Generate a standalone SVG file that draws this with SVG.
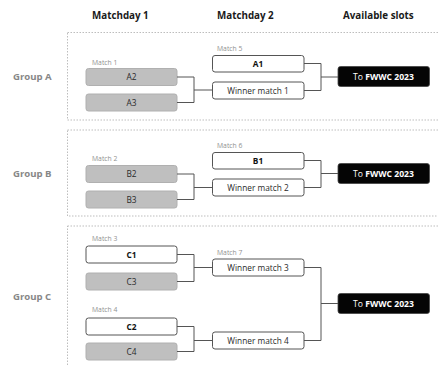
<svg xmlns="http://www.w3.org/2000/svg" width="438" height="365" viewBox="0 0 438 365">
<style>
text{font-family:"Open Sans","Liberation Sans",sans-serif}
.hdr{font-size:9.8px;font-weight:700;fill:#1a1a1a}
.grp{font-size:9.6px;font-weight:700;fill:#878787}
.lbl{font-size:6.8px;fill:#919191}
.t{font-size:8.3px;fill:#2a2a2a;text-anchor:middle}
.b{font-weight:700;fill:#111}
.gray{fill:#bfbfbf;stroke:#b0b0b0;stroke-width:1}
.white{fill:#fff;stroke:#555;stroke-width:1}
.slot{fill:#050505;stroke:#444;stroke-width:0.8}
.st{font-size:8.6px;fill:#fff;text-anchor:middle}
.frame{fill:none;stroke:#bdbdbd;stroke-width:1;stroke-dasharray:1.5 1.5}
.con path{fill:none;stroke:#555;stroke-width:1}
</style>
<g id="headers">
<text class="hdr" x="92" y="18.5">Matchday 1</text>
<text class="hdr" x="217" y="18.5">Matchday 2</text>
<text class="hdr" x="343" y="18.5">Available slots</text>
</g>
<g id="frames">
<rect class="frame" x="67.5" y="32.5" width="380" height="87.5"/>
<rect class="frame" x="67.5" y="130" width="380" height="86"/>
<rect class="frame" x="67.5" y="226" width="380" height="150"/>
</g>
<g id="groupA">
<text class="grp" x="13" y="80">Group A</text>
<text class="lbl" x="92" y="64.5">Match 1</text>
<text class="lbl" x="217" y="50.5">Match 5</text>
</g>
<g id="groupB">
<text class="grp" x="13" y="177">Group B</text>
<text class="lbl" x="92" y="161">Match 2</text>
<text class="lbl" x="217" y="147.5">Match 6</text>
</g>
<g id="groupC">
<text class="grp" x="13" y="299.5">Group C</text>
<text class="lbl" x="92" y="240.5">Match 3</text>
<text class="lbl" x="217" y="254.5">Match 7</text>
<text class="lbl" x="92" y="311.5">Match 4</text>
</g>
<g id="A2"><rect class="gray" x="86" y="68.5" width="91" height="17" rx="2.5"/><text class="t" x="131.5" y="80">A2</text></g>
<g id="A3"><rect class="gray" x="86" y="94" width="91" height="17" rx="2.5"/><text class="t" x="131.5" y="105.5">A3</text></g>
<g id="A1"><rect class="white" x="212.5" y="55.5" width="91.5" height="16.5" rx="2.5"/><text class="t b" x="258" y="66.8">A1</text></g>
<g id="W1"><rect class="white" x="212.5" y="82" width="91.5" height="17" rx="2.5"/><text class="t" x="258" y="93.5">Winner match 1</text></g>
<g id="SA"><rect class="slot" x="338" y="66.5" width="91.5" height="20" rx="2.5"/><text class="st" x="383.5" y="79.5">To <tspan font-weight="700">FWWC 2023</tspan></text></g>
<g id="B2"><rect class="gray" x="86" y="165.5" width="91" height="17" rx="2.5"/><text class="t" x="131.5" y="177">B2</text></g>
<g id="B3"><rect class="gray" x="86" y="191" width="91" height="17" rx="2.5"/><text class="t" x="131.5" y="202.5">B3</text></g>
<g id="B1"><rect class="white" x="212.5" y="152.5" width="91.5" height="16.5" rx="2.5"/><text class="t b" x="258" y="163.8">B1</text></g>
<g id="W2"><rect class="white" x="212.5" y="179" width="91.5" height="17" rx="2.5"/><text class="t" x="258" y="190.5">Winner match 2</text></g>
<g id="SB"><rect class="slot" x="338" y="163.5" width="91.5" height="20" rx="2.5"/><text class="st" x="383.5" y="176.5">To <tspan font-weight="700">FWWC 2023</tspan></text></g>
<g id="C1"><rect class="white" x="86" y="246" width="91" height="17" rx="2.5"/><text class="t b" x="131.5" y="257.5">C1</text></g>
<g id="C3"><rect class="gray" x="86" y="273" width="91" height="17" rx="2.5"/><text class="t" x="131.5" y="284.5">C3</text></g>
<g id="C2"><rect class="white" x="86" y="318" width="91" height="17" rx="2.5"/><text class="t b" x="131.5" y="329.5">C2</text></g>
<g id="C4"><rect class="gray" x="86" y="343" width="91" height="17" rx="2.5"/><text class="t" x="131.5" y="354.5">C4</text></g>
<g id="W3"><rect class="white" x="212.5" y="259" width="91.5" height="17" rx="2.5"/><text class="t" x="258" y="270.5">Winner match 3</text></g>
<g id="W4"><rect class="white" x="212.5" y="332" width="91.5" height="17" rx="2.5"/><text class="t" x="258" y="343.5">Winner match 4</text></g>
<g id="SC"><rect class="slot" x="338" y="293.5" width="91.5" height="20" rx="2.5"/><text class="st" x="383.5" y="306.5">To <tspan font-weight="700">FWWC 2023</tspan></text></g>
<g id="connectors" class="con">
<path d="M177 77H194V102.5H177M194 90H212.5"/>
<path d="M304 63.5H321V90.5H304M321 77H338"/>
<path d="M177 174H194V199.5H177M194 187.5H212.5"/>
<path d="M304 160.5H321V187.5H304M321 173.5H338"/>
<path d="M177 254.5H194V281.5H177M194 267.5H212.5"/>
<path d="M177 326.5H194V351.5H177M194 340.5H212.5"/>
<path d="M304 267.5H321V340.5H304M321 303.5H338"/>
</g>
</svg>
